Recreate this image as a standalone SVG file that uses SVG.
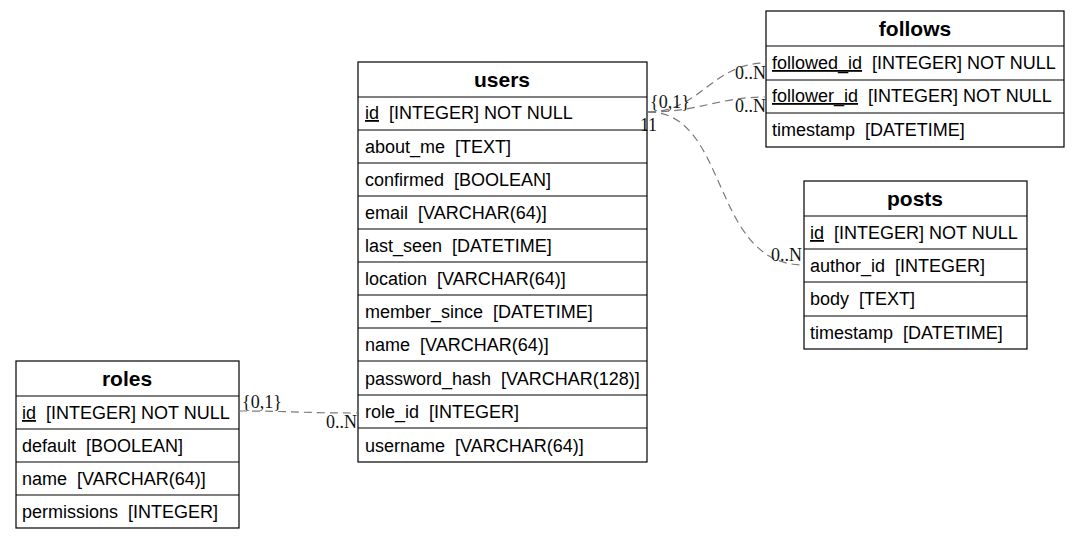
<svg xmlns="http://www.w3.org/2000/svg" width="1081" height="540" viewBox="0 0 1081 540">
<style>
.box{fill:#fff;stroke:#000;stroke-width:1.2}
.sep{stroke:#000;stroke-width:1.2}
.hd{font-family:"Liberation Sans",Arial,sans-serif;font-size:21px;font-weight:bold;text-anchor:middle;fill:#000}
.f{font-family:"Liberation Sans",Arial,sans-serif;font-size:18px;fill:#000;white-space:pre}
.u{text-decoration:underline}
.e{fill:none;stroke:#7a7a7a;stroke-width:1.2;stroke-dasharray:8,5}
.l{font-family:"Liberation Serif","Times New Roman",serif;font-size:18px;fill:#111}
.r{text-anchor:end}
</style>
<rect width="1081" height="540" fill="#fff"/>
<g id="users">
<rect class="box" x="358" y="62" width="289" height="400"/>
<line class="sep" x1="358" y1="97" x2="647" y2="97"/>
<line class="sep" x1="358" y1="130" x2="647" y2="130"/>
<line class="sep" x1="358" y1="163" x2="647" y2="163"/>
<line class="sep" x1="358" y1="196" x2="647" y2="196"/>
<line class="sep" x1="358" y1="229" x2="647" y2="229"/>
<line class="sep" x1="358" y1="262" x2="647" y2="262"/>
<line class="sep" x1="358" y1="295" x2="647" y2="295"/>
<line class="sep" x1="358" y1="328" x2="647" y2="328"/>
<line class="sep" x1="358" y1="361" x2="647" y2="361"/>
<line class="sep" x1="358" y1="395" x2="647" y2="395"/>
<line class="sep" x1="358" y1="428" x2="647" y2="428"/>
<text class="hd" x="502" y="87">users</text>
<text class="f" x="365" y="119"><tspan class="u">id</tspan>  [INTEGER] NOT NULL</text>
<text class="f" x="365" y="153">about_me  [TEXT]</text>
<text class="f" x="365" y="186">confirmed  [BOOLEAN]</text>
<text class="f" x="365" y="219">email  [VARCHAR(64)]</text>
<text class="f" x="365" y="252">last_seen  [DATETIME]</text>
<text class="f" x="365" y="285">location  [VARCHAR(64)]</text>
<text class="f" x="365" y="318">member_since  [DATETIME]</text>
<text class="f" x="365" y="351">name  [VARCHAR(64)]</text>
<text class="f" x="365" y="385">password_hash  [VARCHAR(128)]</text>
<text class="f" x="365" y="418">role_id  [INTEGER]</text>
<text class="f" x="365" y="452">username  [VARCHAR(64)]</text>
</g>
<g id="follows">
<rect class="box" x="766" y="11" width="298" height="136"/>
<line class="sep" x1="766" y1="46" x2="1064" y2="46"/>
<line class="sep" x1="766" y1="80" x2="1064" y2="80"/>
<line class="sep" x1="766" y1="113" x2="1064" y2="113"/>
<text class="hd" x="915" y="36">follows</text>
<text class="f" x="772" y="69"><tspan class="u">followed_id</tspan>  [INTEGER] NOT NULL</text>
<text class="f" x="772" y="102"><tspan class="u">follower_id</tspan>  [INTEGER] NOT NULL</text>
<text class="f" x="772" y="136">timestamp  [DATETIME]</text>
</g>
<g id="posts">
<rect class="box" x="804" y="181" width="223" height="168"/>
<line class="sep" x1="804" y1="216" x2="1027" y2="216"/>
<line class="sep" x1="804" y1="249" x2="1027" y2="249"/>
<line class="sep" x1="804" y1="282" x2="1027" y2="282"/>
<line class="sep" x1="804" y1="316" x2="1027" y2="316"/>
<text class="hd" x="915" y="206">posts</text>
<text class="f" x="810" y="239"><tspan class="u">id</tspan>  [INTEGER] NOT NULL</text>
<text class="f" x="810" y="272">author_id  [INTEGER]</text>
<text class="f" x="810" y="305">body  [TEXT]</text>
<text class="f" x="810" y="339">timestamp  [DATETIME]</text>
</g>
<g id="roles">
<rect class="box" x="16" y="361" width="223" height="167"/>
<line class="sep" x1="16" y1="396" x2="239" y2="396"/>
<line class="sep" x1="16" y1="429" x2="239" y2="429"/>
<line class="sep" x1="16" y1="462" x2="239" y2="462"/>
<line class="sep" x1="16" y1="495" x2="239" y2="495"/>
<text class="hd" x="127" y="386">roles</text>
<text class="f" x="22" y="419"><tspan class="u">id</tspan>  [INTEGER] NOT NULL</text>
<text class="f" x="22" y="452">default  [BOOLEAN]</text>
<text class="f" x="22" y="485">name  [VARCHAR(64)]</text>
<text class="f" x="22" y="518">permissions  [INTEGER]</text>
</g>
<g id="connectors">
<path class="e" d="M648,112 C700,112 712,63 766,63"/>
<path class="e" d="M648,112 C700,112 718,97 766,97"/>
<path class="e" d="M648,112 C730,112 710,265 804,265"/>
<path class="e" d="M239,411 C290,411 300,413 358,413"/>
<text class="l" x="650" y="108">{0,1}</text>
<text class="l" x="640" y="131">1</text>
<text class="l" x="648" y="131">1</text>
<text class="l r" x="766" y="79">0..N</text>
<text class="l r" x="766" y="112">0..N</text>
<text class="l r" x="802" y="261">0..N</text>
<text class="l" x="242" y="408">{0,1}</text>
<text class="l r" x="357" y="428">0..N</text>
</g>
</svg>
